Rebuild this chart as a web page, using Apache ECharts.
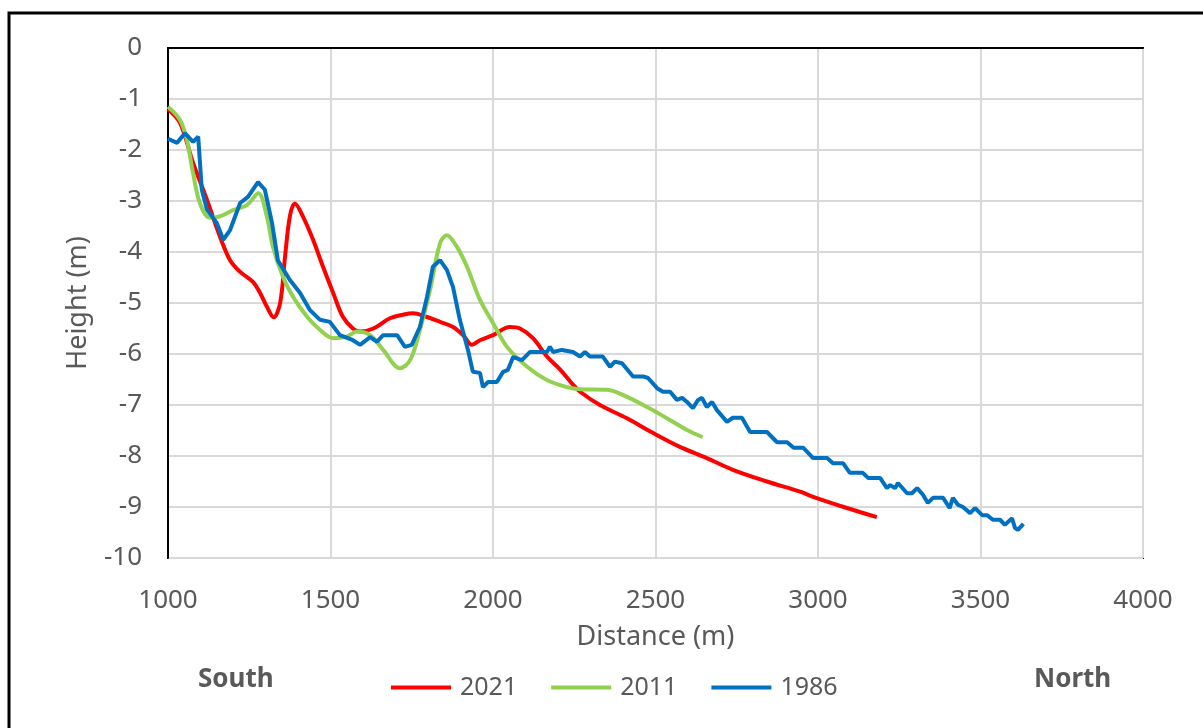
<!DOCTYPE html>
<html>
<head>
<meta charset="utf-8">
<script src="https://cdn.jsdelivr.net/npm/echarts@6/dist/echarts.min.js"></script>
<style>
  html, body { margin: 0; padding: 0; background: #fff; }
  #chart { width: 1203px; height: 728px; }
</style>
</head>
<body>
<div id="chart"></div>
<script>
// profile 2021
const dist2021 = [1000, 1037, 1077, 1120, 1160, 1191, 1222, 1262, 1283, 1304, 1325, 1345, 1360, 1375, 1390, 1415, 1447, 1477, 1508, 1538, 1569, 1591, 1632, 1683, 1723, 1754, 1795, 1837, 1877, 1908, 1935, 1960, 2000, 2052, 2083, 2123, 2166, 2206, 2246, 2268, 2329, 2412, 2493, 2575, 2658, 2738, 2843, 2945, 2985, 3089, 3181];
const height2021 = [-1.2, -1.47, -2.25, -2.98, -3.7, -4.16, -4.39, -4.59, -4.8, -5.07, -5.28, -5.0, -4.1, -3.3, -3.05, -3.3, -3.77, -4.29, -4.8, -5.27, -5.5, -5.56, -5.5, -5.3, -5.23, -5.2, -5.27, -5.37, -5.47, -5.63, -5.82, -5.73, -5.63, -5.47, -5.5, -5.69, -6.05, -6.3, -6.6, -6.74, -7.0, -7.26, -7.55, -7.82, -8.04, -8.27, -8.5, -8.7, -8.8, -9.02, -9.2];

// profile 2011
const dist2011 = [1000, 1037, 1058, 1077, 1098, 1129, 1160, 1200, 1243, 1278, 1304, 1323, 1354, 1385, 1428, 1468, 1508, 1550, 1581, 1622, 1662, 1714, 1745, 1775, 1806, 1837, 1858, 1889, 1920, 1960, 2000, 2043, 2105, 2166, 2228, 2268, 2351, 2412, 2474, 2535, 2597, 2645];
const height2011 = [-1.15, -1.41, -1.8, -2.45, -3.04, -3.33, -3.3, -3.18, -3.08, -2.85, -3.3, -3.9, -4.49, -4.88, -5.27, -5.53, -5.69, -5.66, -5.56, -5.63, -5.92, -6.28, -6.12, -5.53, -4.75, -3.83, -3.67, -3.9, -4.29, -4.94, -5.39, -5.86, -6.25, -6.51, -6.65, -6.69, -6.7, -6.84, -7.04, -7.26, -7.49, -7.63];

// profile 1986
const dist1986 = [1000, 1028, 1052, 1077, 1093, 1104, 1120, 1150, 1170, 1191, 1222, 1246, 1277, 1298, 1320, 1338, 1375, 1406, 1437, 1468, 1498, 1529, 1569, 1591, 1622, 1643, 1662, 1705, 1729, 1750, 1775, 1797, 1815, 1837, 1858, 1877, 1898, 1923, 1938, 1960, 1969, 1985, 2012, 2031, 2046, 2062, 2089, 2114, 2166, 2175, 2185, 2212, 2246, 2268, 2283, 2298, 2338, 2360, 2375, 2397, 2431, 2462, 2477, 2505, 2523, 2545, 2566, 2582, 2597, 2615, 2631, 2643, 2658, 2674, 2689, 2720, 2738, 2766, 2791, 2843, 2874, 2905, 2925, 2955, 2985, 3028, 3046, 3077, 3098, 3138, 3154, 3191, 3212, 3222, 3237, 3246, 3274, 3289, 3305, 3323, 3338, 3354, 3385, 3405, 3415, 3431, 3446, 3468, 3483, 3505, 3520, 3538, 3560, 3575, 3597, 3606, 3615, 3632];
const height1986 = [-1.78, -1.86, -1.67, -1.84, -1.74, -2.78, -3.17, -3.43, -3.76, -3.57, -3.04, -2.92, -2.63, -2.78, -3.43, -4.16, -4.55, -4.8, -5.14, -5.33, -5.37, -5.63, -5.73, -5.82, -5.67, -5.76, -5.63, -5.63, -5.86, -5.82, -5.47, -4.88, -4.29, -4.16, -4.35, -4.69, -5.33, -5.92, -6.35, -6.37, -6.65, -6.55, -6.55, -6.35, -6.31, -6.06, -6.12, -5.96, -5.96, -5.86, -5.96, -5.92, -5.96, -6.05, -5.96, -6.05, -6.05, -6.25, -6.15, -6.18, -6.44, -6.44, -6.47, -6.67, -6.74, -6.74, -6.9, -6.86, -6.94, -7.06, -6.9, -6.86, -7.04, -6.94, -7.1, -7.33, -7.25, -7.25, -7.53, -7.53, -7.73, -7.73, -7.84, -7.84, -8.04, -8.04, -8.14, -8.14, -8.33, -8.33, -8.43, -8.43, -8.63, -8.57, -8.63, -8.53, -8.73, -8.73, -8.63, -8.76, -8.92, -8.82, -8.82, -9.02, -8.82, -8.96, -9.0, -9.12, -9.02, -9.16, -9.16, -9.25, -9.25, -9.35, -9.22, -9.41, -9.45, -9.33];

const seriesNames = ['2021', '2011', '1986'];
const seriesColors = ['#ff0000', '#92d050', '#0070c0'];

const zip = (xs, ys) => xs.map((x, i) => [x, ys[i]]);
const profiles = [
  zip(dist2021, height2021),
  zip(dist2011, height2011),
  zip(dist1986, height1986),
];

const FONT = 'Noto Sans';
const GREY = '#595959';

const chart = echarts.init(document.getElementById('chart'));
const option = {
  animation: false,
  backgroundColor: '#fff',
  textStyle: { fontFamily: FONT },
  grid: {
    left: 168,
    top: 48,
    right: 60,
    bottom: 170,
    show: true,
    borderColor: '#000',
    borderWidth: 2,
  },
  xAxis: {
    type: 'value',
    min: 1000,
    max: 4000,
    interval: 500,
    name: 'Distance (m)',
    nameLocation: 'middle',
    nameGap: 66,
    nameTextStyle: { fontSize: 27, color: GREY, fontFamily: FONT },
    axisLine: { show: true, lineStyle: { color: '#000', width: 2 } },
    axisTick: { show: false },
    axisLabel: {
      margin: 30,
      fontSize: 26,
      color: GREY,
      fontFamily: FONT,
      formatter: (v) => String(v),
    },
    splitLine: { show: true, lineStyle: { color: '#d9d9d9', width: 2 } },
  },
  yAxis: {
    type: 'value',
    min: -10,
    max: 0,
    interval: 1,
    name: 'Height (m)',
    nameLocation: 'middle',
    nameGap: 76,
    nameTextStyle: { fontSize: 27, color: GREY, fontFamily: FONT },
    axisLine: { show: true, lineStyle: { color: '#000', width: 2 } },
    axisTick: { show: false },
    axisLabel: { margin: 26, fontSize: 26, color: GREY, fontFamily: FONT },
    splitLine: { show: true, lineStyle: { color: '#d9d9d9', width: 2 } },
  },
  legend: {
    left: 386,
    top: 670,
    icon: 'rect',
    itemWidth: 60,
    itemHeight: 4,
    itemGap: 34,
    data: seriesNames,
    textStyle: { fontSize: 25, color: GREY, fontFamily: FONT, padding: [0, 0, 0, 4] },
  },
  graphic: [
    {
      type: 'polyline',
      shape: { points: [[9, 728], [9, 13], [1203, 13]] },
      style: { stroke: '#000', lineWidth: 3, fill: null },
      silent: true,
    },
    {
      type: 'text',
      left: 198,
      top: 667,
      style: { text: 'South', fontSize: 26, fontWeight: 'bold', fill: GREY, fontFamily: FONT },
    },
    {
      type: 'text',
      left: 1034,
      top: 667,
      style: { text: 'North', fontSize: 26, fontWeight: 'bold', fill: GREY, fontFamily: FONT },
    },
  ],
  series: profiles.map((data, i) => ({
    name: seriesNames[i],
    type: 'line',
    data,
    symbol: 'none',
    smooth: i < 2 ? 0.35 : false,
    color: seriesColors[i],
    lineStyle: { color: seriesColors[i], width: 4 },
    z: 2 + i,
  })),
};
chart.setOption(option);
</script>
</body>
</html>
